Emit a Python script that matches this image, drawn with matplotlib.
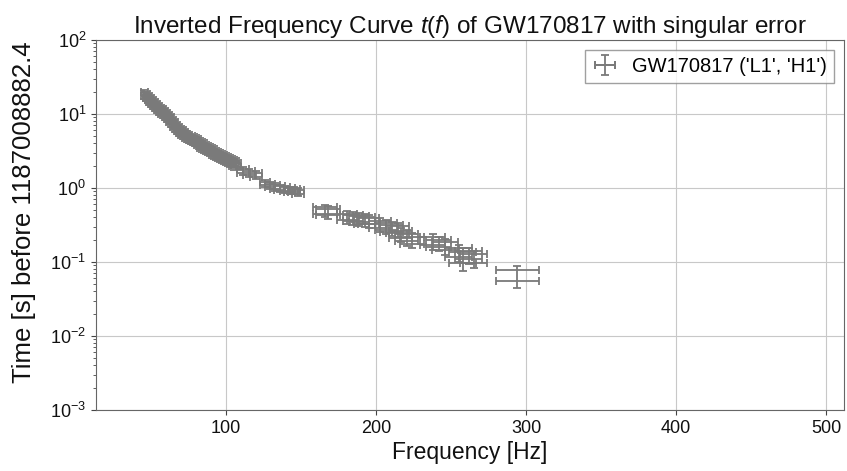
import numpy as np
import matplotlib
matplotlib.use("Agg")
import matplotlib.pyplot as plt
from matplotlib.legend_handler import HandlerTuple

plt.rcParams['font.family'] = ['Liberation Sans', 'DejaVu Sans']
plt.rcParams['mathtext.fontset'] = 'custom'
plt.rcParams['mathtext.rm'] = 'Liberation Sans'
plt.rcParams['mathtext.it'] = 'Liberation Sans:italic'

# frequency [Hz], half width in frequency, time before merger [s], time error
freq = [45.4, 46.8, 48.1, 49.4, 50.7, 52.0, 53.4, 54.8, 56.1, 57.4, 58.7, 60.0,
        61.4, 62.8, 64.1, 65.4, 66.7, 68.0, 69.4, 70.7, 72.0, 73.4, 74.7, 76.0,
        77.4, 78.7, 80.0, 81.4, 82.7, 84.0, 85.4, 86.7, 88.0, 89.4, 90.7, 92.0,
        93.3, 94.7, 96.0, 97.4, 98.7, 100.0, 101.3, 102.7, 104.0, 105.4, 106.7,
        111.0, 115.5, 120.0,
        126.0, 129.3, 132.6, 135.9, 139.3, 142.6, 145.3, 147.9,
        166.0, 168.0,
        180.5, 184.5, 188.5, 192.5, 195.2,
        202.5, 206.5, 210.5, 214.5,
        216.5, 220.5, 223.8,
        237.8, 241.8, 245.8,
        255.1, 257.7, 261.7, 265.1,
        294.3]
freq_err = [2.4, 2.4, 2.4, 2.5, 2.5, 2.5, 2.5, 2.6, 2.6, 2.6, 2.6, 2.7,
            2.7, 2.7, 2.7, 2.8, 2.8, 2.8, 2.8, 2.9, 2.9, 2.9, 2.9, 3.0,
            3.0, 3.0, 3.0, 3.0, 3.0, 3.1, 3.1, 3.1, 3.1, 3.2, 3.2, 3.2,
            3.2, 3.3, 3.3, 3.3, 3.3, 3.4, 3.4, 3.4, 3.4, 3.5, 3.5,
            4.0, 4.0, 4.0,
            3.5, 3.5, 3.5, 3.6, 3.6, 3.7, 3.7, 3.8,
            8.3, 8.0,
            6.7, 6.8, 6.8, 6.9, 7.0,
            7.5, 7.5, 7.6, 7.6,
            7.8, 7.8, 8.0,
            8.5, 8.5, 8.6,
            9.0, 9.0, 9.2, 9.2,
            14.3]
t = [18.7, 17.6, 16.5, 15.5, 14.6, 13.7, 12.9, 12.1, 11.4, 10.9, 10.4, 9.7,
     9.14, 8.4, 7.82, 7.2, 6.69, 6.3, 5.91, 5.6, 5.38, 5.1, 4.90, 4.75,
     4.60, 4.45, 4.33, 4.1, 3.94, 3.75, 3.59, 3.48, 3.37, 3.27, 3.17, 3.0,
     2.88, 2.80, 2.71, 2.63, 2.55, 2.47, 2.39, 2.32, 2.25, 2.15, 2.05,
     1.70, 1.60, 1.50,
     1.15, 1.08, 1.04, 1.00, 0.97, 0.94, 0.92, 0.89,
     0.50, 0.475,
     0.405, 0.393, 0.381, 0.369, 0.357,
     0.326, 0.306, 0.288, 0.279,
     0.239, 0.217, 0.198,
     0.192, 0.180, 0.164,
     0.136, 0.116, 0.124, 0.113,
     0.0664]
t_err = [2.6, 2.45, 2.3, 2.15, 2.0, 1.9, 1.8, 1.7, 1.6, 1.52, 1.45, 1.36,
         1.28, 1.18, 1.1, 1.0, 0.94, 0.88, 0.83, 0.78, 0.75, 0.71, 0.69, 0.66,
         0.64, 0.62, 0.61, 0.57, 0.55, 0.52, 0.50, 0.49, 0.47, 0.46, 0.44, 0.42,
         0.40, 0.39, 0.38, 0.37, 0.36, 0.35, 0.33, 0.32, 0.31, 0.30, 0.29,
         0.20, 0.19, 0.18,
         0.13, 0.12, 0.12, 0.11, 0.11, 0.10, 0.10, 0.10,
         0.098, 0.09,
         0.08, 0.08, 0.075, 0.075, 0.07,
         0.07, 0.065, 0.06, 0.06,
         0.05, 0.05, 0.045,
         0.045, 0.04, 0.04,
         0.035, 0.040, 0.03, 0.03,
         0.022]

freq = np.array(freq)
freq_err = np.array(freq_err)
t = np.array(t)
t_err = np.array(t_err)

col = '#7a7a7a'
fig = plt.figure(figsize=(8.47, 4.71), dpi=100)
ax = fig.add_axes([0.1133, 0.1295, 0.8832, 0.7855])

kw = dict(fmt='none', ecolor=col, elinewidth=1.3, capsize=3, capthick=1.3)
c1 = ax.errorbar(freq, t, yerr=t_err, **kw)
c2 = ax.errorbar(freq, t - t_err / 2, xerr=freq_err, **kw)
c3 = ax.errorbar(freq, t + t_err / 2, xerr=freq_err, **kw)

ax.set_yscale('log')
ax.set_ylim(1e-3, 1e2)
ax.set_xlim(13.3, 512)
ax.set_xticks([100, 200, 300, 400, 500])

ax.grid(True, color='#c8c8c8', linewidth=0.8)
ax.set_axisbelow(True)
for s in ax.spines.values():
    s.set_color('#666666')
ax.tick_params(axis='both', which='both', colors='#444444', labelcolor='#111111', labelsize=13)
ax.tick_params(axis='x', which='minor', bottom=False)

ax.set_title('Inverted Frequency Curve $t(f)$ of GW170817 with singular error',
             fontsize=17.5, color='#111111', pad=5)
ax.set_xlabel('Frequency [Hz]', fontsize=16.5, color='#111111', labelpad=3)
ax.set_ylabel('Time [s] before 1187008882.4', fontsize=18.5, color='#111111')
ax.yaxis.set_label_coords(-0.08, 0.535)

leg = ax.legend([(c1, c2, c3)], ["GW170817 ('L1', 'H1')"],
                handler_map={tuple: HandlerTuple(ndivide=1)},
                loc='upper right', fontsize=14.5, fancybox=False, edgecolor='#888888',
                handlelength=1.3, handletextpad=0.7, borderpad=0.35)
leg.get_frame().set_linewidth(1.0)

fig.savefig('out.png', dpi=100)
